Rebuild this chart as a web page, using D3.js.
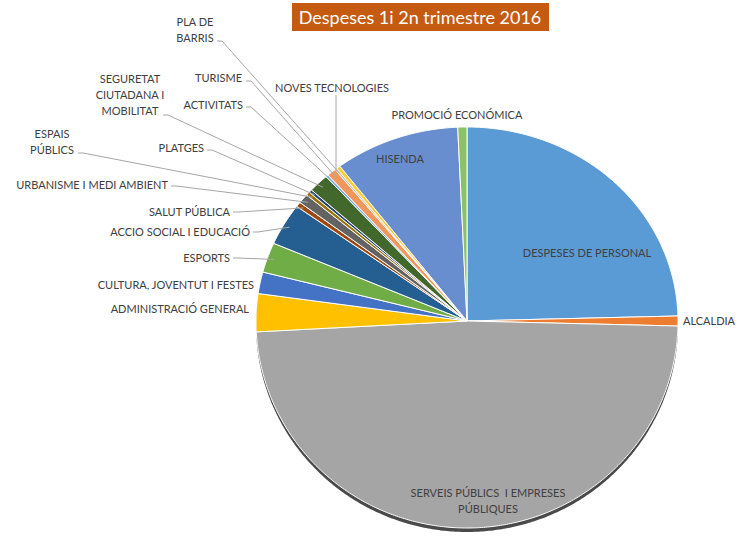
<!DOCTYPE html>
<html lang="ca">
<head>
<meta charset="utf-8">
<style>
html, body {
    margin: 0;
    padding: 0;
    background: #fff;
}
svg text {
    font-family: Lato, "Open Sans", sans-serif;
    fill: #404040;
    white-space: pre;
}
</style>
</head>
<body>
<div id="stage"></div>

<script src="https://cdn.jsdelivr.net/npm/d3@7/dist/d3.min.js"></script>
<script>

// share of spending, %
var categories = [
    "DESPESES DE PERSONAL", "ALCALDIA", "SERVEIS PÚBLICS  I EMPRESES PÚBLIQUES",
    "ADMINISTRACIÓ GENERAL", "CULTURA, JOVENTUT I FESTES", "ESPORTS",
    "ACCIO SOCIAL I EDUCACIÓ", "SALUT PÚBLICA", "URBANISME I MEDI AMBIENT",
    "ESPAIS PÚBLICS", "PLATGES", "SEGURETAT CIUTADANA I MOBILITAT",
    "ACTIVITATS", "TURISME", "PLA DE BARRIS", "NOVES TECNOLOGIES",
    "HISENDA", "PROMOCIÓ ECONÓMICA"
]
var values = [24.6, 0.8, 48.8, 3.1, 1.8, 2.5, 3.5, 0.4, 0.8, 0.3, 0.25, 1.55, 0.2, 0.7, 0.15, 0.3, 9.6, 0.7]

var colors = [
    "#5B9BD5", "#ED7D31", "#A5A5A5", "#FFC000", "#4472C4", "#70AD47",
    "#255E91", "#9E480E", "#636363", "#997300", "#264478", "#43682B",
    "#7CAFDD", "#F1975A", "#B7B7B7", "#FFCD33", "#698ED0", "#8CC168"
]

// label placement: text lines, anchor point, leader start (null = no leader)
var labelLayout = [
    {lines:["DESPESES DE PERSONAL"], x:587, y:253, anchor:"middle", lead:null},
    {lines:["ALCALDIA"], x:683, y:321, anchor:"start", lead:null},
    {lines:["SERVEIS PÚBLICS  I EMPRESES", "PÚBLIQUES"], x:488, y:493, anchor:"middle", lead:null},
    {lines:["ADMINISTRACIÓ GENERAL"], x:249, y:309, anchor:"end", lead:null},
    {lines:["CULTURA, JOVENTUT I FESTES"], x:254, y:285, anchor:"end", lead:null},
    {lines:["ESPORTS"], x:230, y:258, anchor:"end", lead:[233, 258]},
    {lines:["ACCIO SOCIAL I EDUCACIÓ"], x:250, y:232, anchor:"end", lead:[253, 232]},
    {lines:["SALUT PÚBLICA"], x:230, y:212, anchor:"end", lead:[233, 212]},
    {lines:["URBANISME I MEDI AMBIENT"], x:168, y:185, anchor:"end", lead:[171, 186]},
    {lines:["ESPAIS", "PÚBLICS"], x:52, y:134, anchor:"middle", lead:[78, 153]},
    {lines:["PLATGES"], x:204, y:148, anchor:"end", lead:[207, 150]},
    {lines:["SEGURETAT", "CIUTADANA I", "MOBILITAT"], x:130, y:79, anchor:"middle", lead:[163, 115]},
    {lines:["ACTIVITATS"], x:243, y:105, anchor:"end", lead:[246, 107]},
    {lines:["TURISME"], x:242, y:78, anchor:"end", lead:[246, 81]},
    {lines:["PLA DE", "BARRIS"], x:195, y:22, anchor:"middle", lead:[217, 41]},
    {lines:["NOVES TECNOLOGIES"], x:332, y:88, anchor:"middle", lead:[336, 95]},
    {lines:["HISENDA"], x:400, y:159, anchor:"middle", lead:null},
    {lines:["PROMOCIÓ ECONÓMICA"], x:457, y:115, anchor:"middle", lead:null}
]

var W = 742, H = 541
var cx = 467, cy = 321, rx = 211, ryTop = 194, ryBot = 207

var svg = d3.select("#stage").append("svg")
    .attr("width", W)
    .attr("height", H)

// slightly tilted disc: near half looks bigger than the far half
function proj(a, k) {
    var c = Math.cos(a), s = Math.sin(a)
    return [cx + k * rx * s, cy - k * c * (c > 0 ? ryTop : ryBot)]
}

function slicePath(a0, a1) {
    var n = Math.max(2, Math.ceil((a1 - a0) / 0.01))
    var p = d3.path()
    p.moveTo(cx, cy)
    d3.range(n + 1).forEach(function(i){
        var pt = proj(a0 + (a1 - a0) * i / n, 1)
        p.lineTo(pt[0], pt[1])
    })
    p.closePath()
    return p.toString()
}

var pie = d3.pie().sort(null).value(function(d){ return d })
var arcs = pie(values)

// the side of the disc showing under the near edge
svg.append("path")
    .attr("d", slicePath(0, 2 * Math.PI))
    .attr("transform", "translate(0,4)")
    .attr("fill", "#4a4a4a")

svg.append("g").selectAll("path")
    .data(arcs)
    .enter()
    .append("path")
    .attr("d", function(d){ return slicePath(d.startAngle, d.endAngle) })
    .attr("fill", function(d, i){ return colors[i] })
    .attr("stroke", "#fff")
    .attr("stroke-width", 1)
    .attr("stroke-linejoin", "round")

// leader lines
var leaders = svg.append("g")
arcs.forEach(function(d, i){
    var L = labelLayout[i]
    if (!L.lead) return
    var mid = (d.startAngle + d.endAngle) / 2
    var end = proj(mid, 0.97)
    var sx = L.lead[0], sy = L.lead[1]
    var pts = i === 15
        ? [[sx, sy], [sx, end[1]]]
        : [[sx, sy], [sx + 5, sy], end]
    leaders.append("path")
        .attr("d", d3.line()(pts))
        .attr("fill", "none")
        .attr("stroke", "#a6a6a6")
        .attr("stroke-width", 1)
})

// labels
var lab = svg.append("g")
labelLayout.forEach(function(L){
    var t = lab.append("text")
        .attr("text-anchor", L.anchor)
        .attr("font-size", 11)
    L.lines.forEach(function(s, j){
        t.append("tspan")
            .attr("x", L.x)
            .attr("y", L.y + 4 + j * 16)
            .text(s)
    })
})

// title
svg.append("rect")
    .attr("x", 292)
    .attr("y", 3)
    .attr("width", 257)
    .attr("height", 28)
    .attr("fill", "#C55A11")

svg.append("text")
    .attr("x", 420)
    .attr("y", 24)
    .attr("text-anchor", "middle")
    .attr("font-size", 18)
    .attr("font-weight", 400)
    .style("fill", "#fff")
    .text("Despeses 1i 2n trimestre 2016")

</script>
</body>
</html>
